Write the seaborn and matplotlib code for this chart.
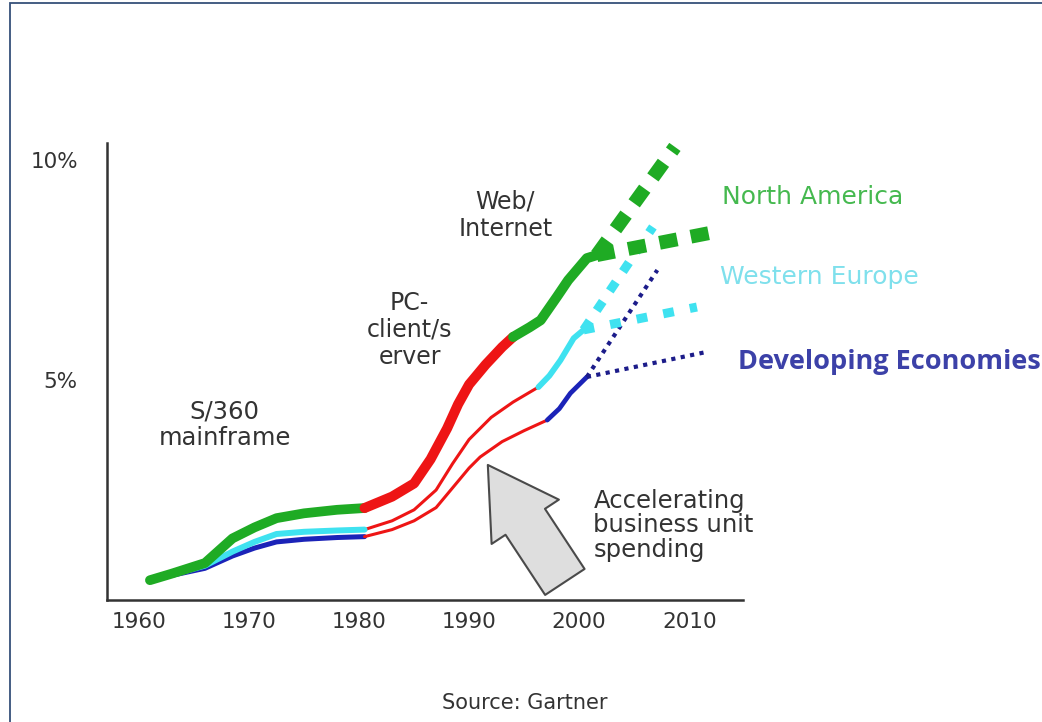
import matplotlib
matplotlib.use("Agg")
import matplotlib.pyplot as plt
import matplotlib.patches as mpatches
import seaborn as sns

# ---- data (share of revenue, %) ----
era1_years = [1961, 1963, 1966, 1968.5, 1970.5, 1972.5, 1975, 1978, 1980.5]
na_era1 = [0.45, 0.6, 0.84, 1.4, 1.65, 1.86, 1.97, 2.05, 2.09]
we_era1 = [0.45, 0.58, 0.78, 1.1, 1.32, 1.5, 1.55, 1.58, 1.6]
de_era1 = [0.45, 0.56, 0.72, 1.0, 1.18, 1.32, 1.38, 1.42, 1.44]

na_era2_years = [1980.5, 1983, 1985, 1986.5, 1988, 1989, 1990, 1991.5, 1993, 1994]
na_era2 = [2.09, 2.35, 2.65, 3.2, 3.9, 4.45, 4.9, 5.35, 5.75, 5.98]
we_era2_years = [1980.5, 1983, 1985, 1987, 1988.5, 1990, 1992, 1994, 1996.3]
we_era2 = [1.6, 1.8, 2.05, 2.5, 3.1, 3.65, 4.15, 4.5, 4.84]
de_era2_years = [1980.5, 1983, 1985, 1987, 1988.5, 1990, 1991, 1993, 1995, 1997.1]
de_era2 = [1.44, 1.6, 1.8, 2.1, 2.55, 3.0, 3.25, 3.6, 3.85, 4.09]

na_era3_years = [1994, 1995.5, 1996.5, 1998, 1999, 2000.7, 2001.6]
na_era3 = [5.98, 6.2, 6.36, 6.9, 7.27, 7.77, 7.84]
we_era3_years = [1996.3, 1997.3, 1998.3, 1999.5, 2000.4]
we_era3 = [4.84, 5.1, 5.45, 5.95, 6.14]
de_era3_years = [1997.1, 1998.2, 1999.2, 2000.7]
de_era3 = [4.09, 4.35, 4.7, 5.07]

# projections: (years, values)
na_proj_high = ([2001.6, 2008.7], [7.84, 10.3])
na_proj_low = ([2001.6, 2012.2], [7.84, 8.36])
we_proj_high = ([2000.4, 2006.7], [6.14, 8.48])
we_proj_low = ([2000.4, 2010.7], [6.14, 6.66])
de_proj_high = ([2000.7, 2007.1], [5.07, 7.5])
de_proj_low = ([2000.7, 2011.6], [5.07, 5.64])

x_ticks = [1960, 1970, 1980, 1990, 2000, 2010]
y_ticks = [2.5, 5, 7.5, 10]
y_tick_labels = ["", "5%", "", "10%"]

GREEN = "#1fab24"
CYAN = "#3fe2f0"
BLUE = "#1b23b8"
NAVY = "#1c1c8a"
RED = "#ee1515"
TXT = "#333333"

sns.set_style("white")
plt.rcParams["font.family"] = ["DejaVu Sans"]

fig = plt.figure(figsize=(10.42, 7.22), dpi=100)
ax = fig.add_axes([0.1027, 0.169, 0.6105, 0.633])


def seg(x, y, color, lw, ls="-", z=2):
    sns.lineplot(x=x, y=y, ax=ax, color=color, linewidth=lw, linestyle=ls,
                 sort=False, estimator=None, solid_capstyle="round",
                 dash_capstyle="butt", zorder=z)


# mainframe era
seg(era1_years, de_era1, BLUE, 3.6, z=2)
seg(era1_years, we_era1, CYAN, 4.3, z=3)
seg(era1_years, na_era1, GREEN, 7.0, z=4)

# PC client/server era
seg(de_era2_years, de_era2, RED, 2.2)
seg(we_era2_years, we_era2, RED, 2.2)
seg(na_era2_years, na_era2, RED, 7.2, z=4)

# web era
seg(de_era3_years, de_era3, BLUE, 3.4)
seg(we_era3_years, we_era3, CYAN, 4.2)
seg(na_era3_years, na_era3, GREEN, 7.2, z=4)

# projections
seg(*de_proj_high, NAVY, 3.0, ls=(0, (1.0, 1.3)))
seg(*de_proj_low, NAVY, 3.0, ls=(0, (1.0, 1.3)))
seg(*we_proj_high, CYAN, 6.5, ls=(0, (1.2, 1.4)), z=3)
seg(*we_proj_low, CYAN, 6.5, ls=(0, (1.2, 1.8)), z=3)
seg(*na_proj_high, GREEN, 10, ls=(0, (1.3, 1.0)), z=4)
seg(*na_proj_low, GREEN, 10, ls=(0, (1.3, 1.0)), z=4)

ax.set_xlim(1957.1, 2014.9)
ax.set_ylim(0, 10.39)
ax.set_xticks(x_ticks)
ax.set_xticklabels([str(t) for t in x_ticks])
ax.set_yticks(y_ticks)
ax.set_yticklabels(y_tick_labels)
ax.set_xlabel("")
ax.set_ylabel("")
ax.tick_params(axis="both", colors=TXT, labelsize=15.5, length=3, width=1.5,
               direction="out")
ax.tick_params(axis="y", pad=18)
ax.tick_params(axis="x", pad=6)
for side in ["top", "right"]:
    ax.spines[side].set_visible(False)
for side in ["left", "bottom"]:
    ax.spines[side].set_color("#333333")
    ax.spines[side].set_linewidth(1.8)

# era labels
ax.text(1967.8, 3.98, "S/360\nmainframe", ha="center", va="center",
        fontsize=17.5, color=TXT, linespacing=1.1)
ax.text(1984.6, 6.14, "PC-\nclient/s\nerver", ha="center", va="center",
        fontsize=17, color=TXT, linespacing=1.15)
ax.text(1993.3, 8.75, "Web/\nInternet", ha="center", va="center",
        fontsize=17, color=TXT, linespacing=1.15)

# region labels
ax.text(2013.0, 9.16, "North America", ha="left", va="center",
        fontsize=18, color="#45b94f")
ax.text(2012.8, 7.34, "Western Europe", ha="left", va="center",
        fontsize=18, color="#7fe0ec")
ax.text(2014.4, 5.41, "Developing Economies", ha="left", va="center",
        fontsize=19.5, color="#3c41a8", fontweight="bold",
        family=["Open Sans", "DejaVu Sans"])

# business unit spending arrow + note
arrow = mpatches.FancyArrowPatch(
    (1998.7, 0.41), (1991.7, 3.07),
    arrowstyle=mpatches.ArrowStyle.Simple(head_length=49, head_width=58,
                                          tail_width=34),
    mutation_scale=1, shrinkA=0, shrinkB=0,
    facecolor="#dedede", edgecolor="#4a4a4a", linewidth=1.5, zorder=5)
ax.add_patch(arrow)
ax.text(2001.3, 1.7, "Accelerating\nbusiness unit\nspending", ha="left",
        va="center", fontsize=17.5, color=TXT, linespacing=1.02)

fig.text(0.504, 0.026, "Source: Gartner", ha="center", va="center",
         fontsize=15, color=TXT)

# thin slide frame
frame = mpatches.Rectangle((10 / 1042, -0.02), 1.0, 1.0 - 3 / 722 + 0.02,
                           transform=fig.transFigure, fill=False,
                           edgecolor="#36507a", linewidth=1.3)
fig.patches.append(frame)

fig.savefig("out.png", dpi=100)
